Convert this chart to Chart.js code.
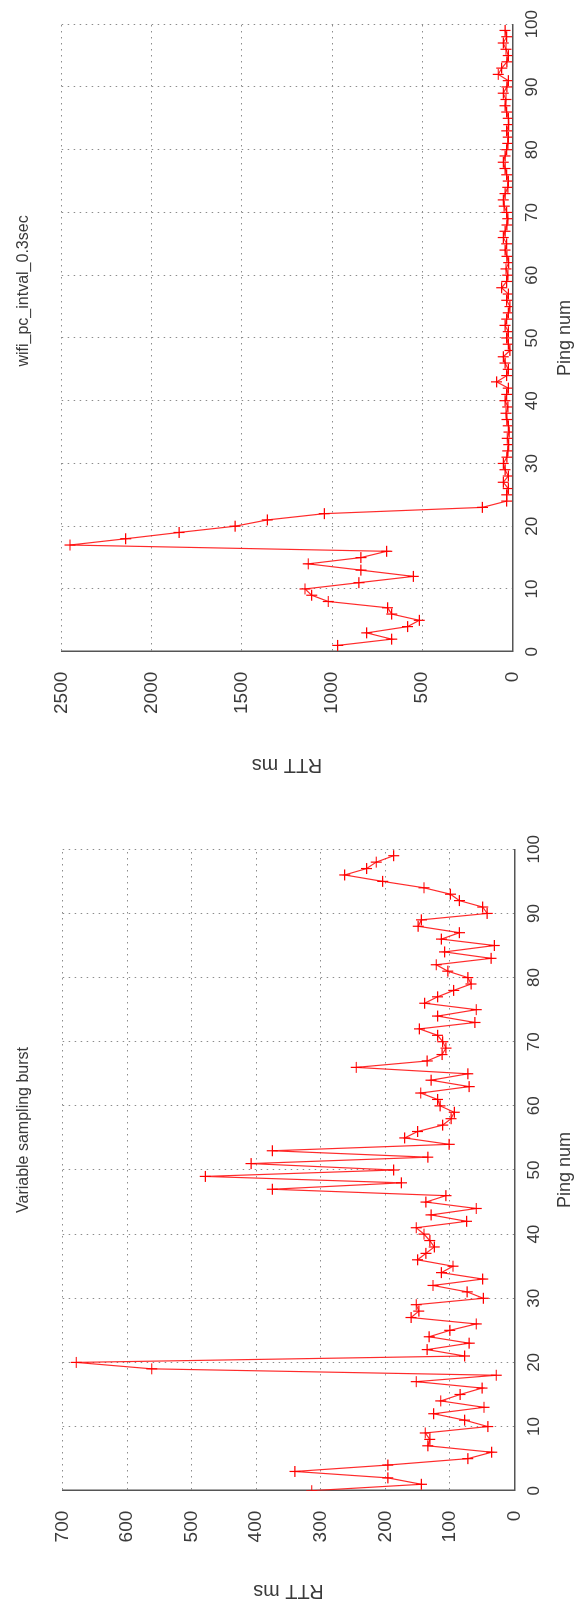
<!DOCTYPE html>
<html>
<head>
<meta charset="utf-8">
<title>RTT ms vs Ping num</title>
<script src="https://cdn.jsdelivr.net/npm/chart.js@4.4.1/dist/chart.umd.min.js"></script>
<style>
    html, body { margin: 0; padding: 0; background: #fff; overflow: hidden; }
    /* the two plots are laid out landscape and the whole sheet is turned a quarter turn */
    #sheet {
        position: absolute; left: 0; top: 0;
        width: 1608px; height: 582px;
        transform-origin: 0 0;
        transform: translateY(1608px) rotate(-90deg);
    }
    #sheet canvas { position: absolute; top: 0; }
    #burst-chart { left: 0; }
    #wifi-chart { left: 808px; }
</style>
</head>
<body>
<div id="sheet">
    <canvas id="burst-chart" width="800" height="582"></canvas>
    <canvas id="wifi-chart" width="800" height="582"></canvas>
</div>
<script>
// Variable sampling burst: RTT (ms) for ping 0..99
const burstFirstPing = 0;
const burstRtt = [
    314, 144, 196, 340, 196, 72, 35, 134, 131, 138,
    41, 77, 125, 47, 114, 84, 50, 152, 28, 562,
    679, 77, 135, 70, 132, 100, 59, 160, 148, 152,
    48, 73, 126, 49, 113, 95, 150, 137, 124, 131,
    140, 152, 74, 129, 59, 137, 106, 375, 175, 479,
    187, 408, 134, 375, 101, 170, 150, 111, 98, 93,
    115, 119, 145, 70, 129, 72, 245, 135, 112, 106,
    111, 119, 147, 61, 119, 59, 139, 119, 94, 67,
    72, 103, 121, 36, 108, 31, 113, 85, 149, 144,
    42, 49, 85, 99, 140, 204, 263, 229, 214, 187
];

// wifi_pc_intval_0.3sec: RTT (ms) for ping 1..99
const wifiFirstPing = 1;
const wifiRtt = [
    969, 669, 808, 581, 516, 669, 692, 1021, 1113,
    1150, 851, 549, 840, 1132, 840, 697, 2454, 2145, 1849,
    1538, 1359, 1043, 166, 31, 31, 22, 50, 22, 40,
    50, 30, 25, 20, 28, 18, 22, 30, 35, 25,
    40, 31, 22, 87, 31, 22, 40, 50, 13, 22,
    31, 22, 40, 31, 22, 13, 31, 22, 59, 31,
    25, 35, 20, 30, 40, 31, 50, 40, 30, 25,
    31, 45, 50, 40, 25, 22, 31, 40, 50, 40,
    31, 25, 22, 31, 20, 22, 31, 40, 35, 50,
    30, 22, 78, 59, 30, 22, 35, 50, 31, 40
];

const pingTicks = [0, 10, 20, 30, 40, 50, 60, 70, 80, 90, 100];

const fontFamily = '"Liberation Sans", Arial, Helvetica, sans-serif';
const textColor = '#3a3a3a';

// gnuplot-style title, drawn above the plot
const plotTitle = {
    id: 'plotTitle',
    afterDraw(chart, args, opts) {
        const area = chart.chartArea;
        const ctx = chart.ctx;
        ctx.save();
        ctx.font = '16px ' + fontFamily;
        ctx.fillStyle = textColor;
        ctx.textAlign = 'center';
        ctx.textBaseline = 'middle';
        ctx.fillText(opts.text, (area.left + area.right) / 2 + opts.shift, opts.y);
        ctx.restore();
    }
};

function makeChart(canvasId, values, firstPing, yMax, yStep, title, box) {
    const points = values.map((v, i) => ({ x: firstPing + i, y: v }));
    return new Chart(document.getElementById(canvasId), {
        type: 'line',
        data: {
            datasets: [{
                data: points,
                borderColor: 'rgba(255, 20, 20, 0.9)',
                borderWidth: 1.2,
                pointStyle: 'cross',
                pointRadius: 5.5,
                pointBorderWidth: 1.2,
                pointBorderColor: '#ff0000',
                tension: 0,
                fill: false
            }]
        },
        options: {
            responsive: false,
            animation: false,
            devicePixelRatio: 1,
            layout: { padding: { left: 0, top: box.top, right: box.right, bottom: 0 } },
            plugins: {
                legend: { display: false },
                tooltip: { enabled: false },
                plotTitle: { text: title, shift: box.titleShift, y: 24 }
            },
            scales: {
                x: {
                    type: 'linear',
                    min: 0,
                    max: 100,
                    afterBuildTicks: s => { s.ticks = pingTicks.map(v => ({ value: v })); },
                    afterFit: s => { s.height = box.xHeight; },
                    ticks: {
                        padding: 10, color: textColor, font: { size: 17, family: fontFamily },
                        callback: v => String(v)
                    },
                    grid: { color: '#8c8c8c', lineWidth: 1, drawTicks: false },
                    border: { color: '#555', width: 1.5, dash: [1.5, 4.5] },
                    title: {
                        display: true, text: 'Ping num', color: textColor,
                        font: { size: 18, family: fontFamily },
                        padding: { top: 0, bottom: box.xTitlePad }
                    }
                },
                y: {
                    min: 0,
                    max: yMax,
                    afterFit: s => { s.width = box.yWidth; },
                    ticks: {
                        stepSize: yStep, padding: 20, color: textColor,
                        font: { size: 19, family: fontFamily },
                        callback: v => String(v)
                    },
                    grid: { color: '#8c8c8c', lineWidth: 1, drawTicks: false },
                    border: { color: '#555', width: 1.5, dash: [1.5, 4.5] },
                    title: {
                        display: true, text: 'RTT ms', color: textColor,
                        font: { size: 20, family: fontFamily },
                        padding: { top: box.yTitlePad, bottom: 0 }
                    }
                }
            }
        },
        plugins: [plotTitle]
    });
}

makeChart('burst-chart', burstRtt, burstFirstPing, 700, 100, 'Variable sampling burst', {
    top: 62.7, right: 41.3, yWidth: 117.3, xHeight: 67.7,
    titleShift: 40, xTitlePad: 6, yTitlePad: 5
});

makeChart('wifi-chart', wifiRtt, wifiFirstPing, 2500, 500, 'wifi_pc_intval_0.3sec', {
    top: 61.7, right: 24, yWidth: 148.3, xHeight: 69.7,
    titleShift: 47, xTitlePad: 6, yTitlePad: 23
});
</script>
</body>
</html>
